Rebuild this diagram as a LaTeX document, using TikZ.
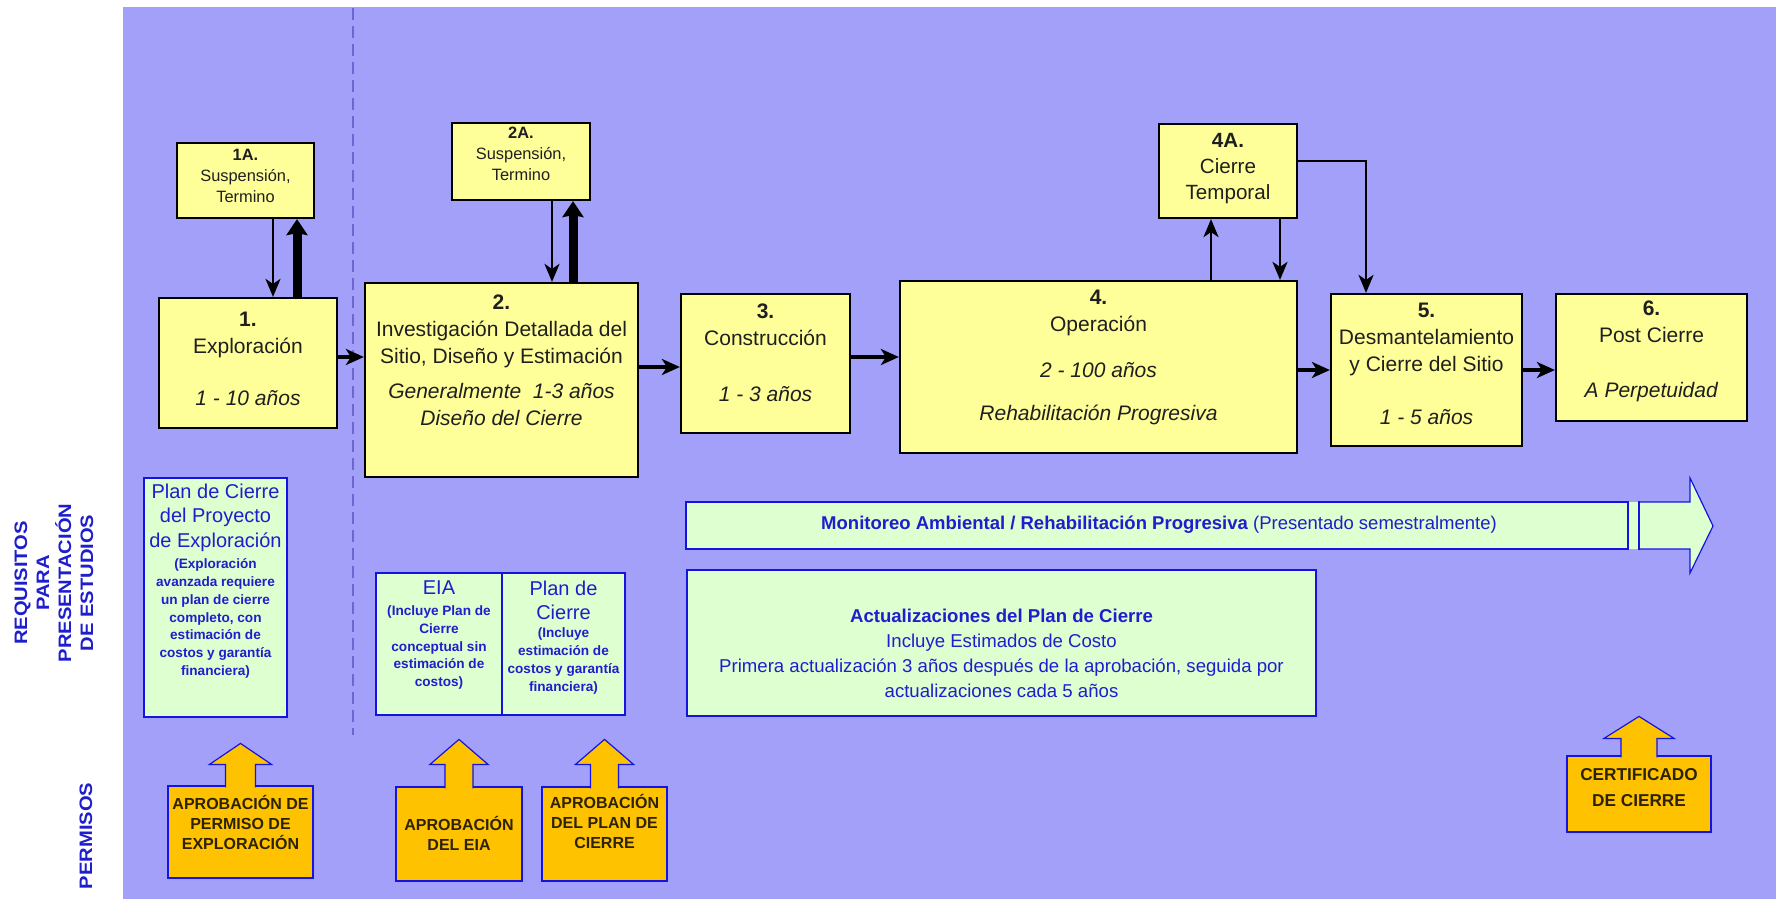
\documentclass[tikz,border=0pt]{standalone}
\usepackage{fontspec}
\setmainfont{Liberation Sans}
\newfontfamily\sidefont[FakeStretch=1.12]{Liberation Sans}
\usetikzlibrary{arrows.meta}
\definecolor{bgpurple}{RGB}{163,160,250}
\definecolor{boxyellow}{RGB}{255,255,153}
\definecolor{boxgreen}{RGB}{222,255,208}
\definecolor{lineblue}{RGB}{20,20,225}
\definecolor{textblue}{RGB}{30,30,205}
\definecolor{permgold}{RGB}{255,194,0}
\definecolor{dashcol}{RGB}{110,100,210}
\definecolor{permtext}{RGB}{45,35,0}
\newcommand\permup[5]{% node, stem height, stem half width, head half width, head height
  \filldraw[permgold, draw=lineblue, line width=0.6pt]
    ([xshift=-#3*0.5pt,yshift=-1pt]#1.north) -- ++(0,-#2) -- ++(#3-#4,0) -- ++(#4,-#5)
    -- ++(#4,#5) -- ++(#3-#4,0) -- ++(0,#2);
}
\begin{document}
\begin{tikzpicture}[x=0.5pt,y=-0.5pt,
  ybox/.style n args={2}{draw=black, line width=1.1pt, fill=boxyellow, inner sep=0pt, minimum width=#1, minimum height=#2},
  gbox/.style n args={2}{draw=lineblue, line width=1.2pt, fill=boxgreen, inner sep=0pt, minimum width=#1, minimum height=#2},
  pbox/.style n args={2}{draw=lineblue, line width=0.6pt, fill=permgold, inner sep=0pt, minimum width=#1, minimum height=#2},
  maintxt/.style={align=center, inner sep=0pt, text=black!88, font=\fontsize{10.5}{13.5}\selectfont},
  smalltxt/.style={align=center, inner sep=0pt, text=black!88, font=\fontsize{8.2}{10.5}\selectfont},
  bluetitle/.style={align=center, inner sep=0pt, text=textblue, font=\fontsize{10}{12.2}\selectfont},
  bluedetail/.style={align=center, inner sep=0pt, text=textblue, font=\bfseries\fontsize{6.8}{8.9}\selectfont},
  bluetxt/.style={align=center, inner sep=0pt, text=textblue, font=\fontsize{9.3}{12.5}\selectfont},
  permtxt/.style={align=center, inner sep=0pt, text=permtext, font=\bfseries\fontsize{8}{10}\selectfont},
  sidelbl/.style={align=center, inner sep=0pt, text=textblue, rotate=90, font=\sidefont\bfseries\fontsize{9}{11}\selectfont},
  harrow/.style={line width=1.7pt, -{Stealth[length=9pt,width=8pt,inset=2.5pt]}},
  varrow/.style={line width=1.3pt, -{Stealth[length=9pt,width=7.5pt,inset=2.5pt]}},
  tharrow/.style={line width=4.5pt, -{Stealth[length=8pt,width=10.5pt,inset=1pt]}},
]
\useasboundingbox (0,0) rectangle (1776,899);
\fill[white] (0,0) rectangle (1776,899);
\fill[bgpurple] (123,7) rectangle (1776,899);
\draw[dashcol, line width=0.7pt, dash pattern=on 6pt off 3pt] (353,8) -- (353,735);

% side labels
\node[sidelbl] (req) at (54,583) {REQUISITOS\\PARA\\PRESENTACIÓN\\DE ESTUDIOS};
\node[sidelbl] (perm) at (86,836) {PERMISOS};

% stage boxes
\node[ybox={68.5pt}{37.5pt}] (a1) at (245.5,180.5) {};
\node[smalltxt] (ta1) at (245.5,176) {\textbf{1A.}\\Suspensión,\\Termino};
\node[ybox={89pt}{65pt}] (b1) at (248,363) {};
\node[maintxt] (tb1) at (248,358.5) {\textbf{1.}\\Exploración\\[12.5pt]\textit{1 - 10 años}};

\node[ybox={69pt}{38.5pt}] (a2) at (521,161.5) {};
\node[smalltxt] (ta2) at (521,154) {\textbf{2A.}\\Suspensión,\\Termino};
\node[ybox={136.5pt}{97pt}] (b2) at (501.5,380) {};
\node[maintxt] (tb2) at (501.5,360) {\textbf{2.}\\Investigación Detallada del\\Sitio, Diseño y Estimación\\[4pt]\textit{Generalmente~~1-3 años}\\\textit{Diseño del Cierre}};

\node[ybox={84.5pt}{69.5pt}] (b3) at (765.5,363.5) {};
\node[maintxt] (tb3) at (765.5,352.5) {\textbf{3.}\\Construcción\\[14.5pt]\textit{1 - 3 años}};

\node[ybox={198.5pt}{86pt}] (b4) at (1098.5,367) {};
\node[maintxt] (tb4) at (1098.5,357.5) {\textbf{4.}\\Operación\\[9.5pt]\textit{2 - 100 años}\\[8pt]\textit{Rehabilitación Progresiva}};
\node[ybox={69pt}{47pt}] (a4) at (1228,171) {};
\node[maintxt, font=\fontsize{10.3}{13.2}\selectfont] (ta4) at (1228,168.5) {\textbf{4A.}\\Cierre\\Temporal};

\node[ybox={95.5pt}{76pt}] (b5) at (1426.5,370) {};
\node[maintxt] (tb5) at (1426.5,364) {\textbf{5.}\\Desmantelamiento\\y Cierre del Sitio\\[13pt]\textit{1 - 5 años}};
\node[ybox={95.5pt}{63.5pt}] (b6) at (1651.5,357.5) {};
\node[maintxt] (tb6) at (1651.5,351) {\textbf{6.}\\Post Cierre\\[14pt]\textit{A Perpetuidad}};

% connector positions
\coordinate (x1d) at (273,0);
\coordinate (x1u) at (297,0);
\coordinate (x2d) at (552,0);
\coordinate (x2u) at (573,0);
\coordinate (x4u) at (1211,0);
\coordinate (x4d) at (1280,0);
\coordinate (x45) at (1366,0);
\coordinate (y12) at (0,357);
\coordinate (y23) at (0,367);
\coordinate (y34) at (0,357);
\coordinate (y45) at (0,370);
\coordinate (y56) at (0,370);
\coordinate (y4a) at (0,161);

\draw[varrow] (a1.south -| x1d) -- (b1.north -| x1d);
\draw[tharrow] (b1.north -| x1u) -- (a1.south -| x1u);
\draw[varrow] (a2.south -| x2d) -- (b2.north -| x2d);
\draw[tharrow] (b2.north -| x2u) -- (a2.south -| x2u);
\draw[varrow] (b4.north -| x4u) -- (a4.south -| x4u);
\draw[varrow] (a4.south -| x4d) -- (b4.north -| x4d);
\draw[varrow] (a4.east |- y4a) -| (b5.north -| x45);

\draw[harrow] (b1.east |- y12) -- (b2.west |- y12);
\draw[harrow] (b2.east |- y23) -- (b3.west |- y23);
\draw[harrow] (b3.east |- y34) -- (b4.west |- y34);
\draw[harrow] (b4.east |- y45) -- (b5.west |- y45);
\draw[harrow] (b5.east |- y56) -- (b6.west |- y56);

% study requirement boxes
\node[gbox={71.5pt}{119.5pt}] (pce) at (215.5,597.5) {};
\node[bluetitle] (tpce) at (215.5,517.5) {Plan de Cierre\\del Proyecto\\de Exploración};
\node[bluedetail] (dpce) at (215.5,618.5) {(Exploración\\avanzada requiere\\un plan de cierre\\completo, con\\estimación de\\costos y garantía\\financiera)};

\node[gbox={63pt}{71pt}] (eia) at (439,644) {};
\node[bluetitle] (teia) at (439,588) {EIA};
\node[bluedetail] (deia) at (439,647.5) {(Incluye Plan de\\Cierre\\conceptual sin\\estimación de\\costos)};
\node[gbox={61.5pt}{71pt}] (pc) at (563.5,644) {};
\node[bluetitle] (tpc) at (563.5,600.5) {Plan de\\Cierre};
\node[bluedetail] (dpc) at (563.5,661) {(Incluye\\estimación de\\costos y garantía\\financiera)};

% monitoring arrow
\fill[boxgreen] (686,502) -- (1690,502) -- (1690,478) -- (1713,526) -- (1690,573) -- (1690,549) -- (686,549) -- cycle;
\draw[lineblue, line width=0.6pt] (1638,502) -- (1690,502) -- (1690,478) -- (1713,526) -- (1690,573) -- (1690,549) -- (1638,549);
\node[gbox={471pt}{23.5pt}] (mon) at (1157,525.5) {};
\draw[lineblue, line width=1.2pt] ([xshift=5pt]mon.north east) -- ([xshift=5pt]mon.south east);
\node[inner sep=0pt, text=textblue, font=\fontsize{9.25}{12}\selectfont] (tmon) at (1159,525)
  {\textbf{Monitoreo Ambiental / Rehabilitación Progresiva} (Presentado semestralmente)};

\node[gbox={314.5pt}{73pt}] (act) at (1001.5,643) {};
\node[bluetxt] (tact) at (1001.5,653)
  {\textbf{Actualizaciones del Plan de Cierre}\\Incluye Estimados de Costo\\Primera actualización 3 años después de la aprobación, seguida por\\actualizaciones cada 5 años};

% permits
\node[pbox={72.5pt}{46pt}] (pexp) at (240.5,832) {};
\permup{pexp}{23}{15}{31}{21}
\node[permtxt] (tpexp) at (240.5,822) {APROBACIÓN DE\\PERMISO DE\\EXPLORACIÓN};

\node[pbox={63pt}{47pt}] (peia) at (459,834) {};
\permup{peia}{24}{14}{29}{25}
\node[permtxt] (tpeia) at (459,833) {APROBACIÓN\\DEL EIA};

\node[pbox={62.5pt}{47pt}] (ppc) at (604.5,834) {};
\permup{ppc}{24}{14}{29}{25}
\node[permtxt] (tppc) at (604.5,821) {APROBACIÓN\\DEL PLAN DE\\CIERRE};

\node[pbox={72pt}{38pt}] (pcert) at (1639,794) {};
\permup{pcert}{19}{18}{35}{22}
\node[permtxt, font=\bfseries\fontsize{8.6}{13}\selectfont] (tpcert) at (1639,788) {CERTIFICADO\\DE CIERRE};
\end{tikzpicture}
\end{document}
